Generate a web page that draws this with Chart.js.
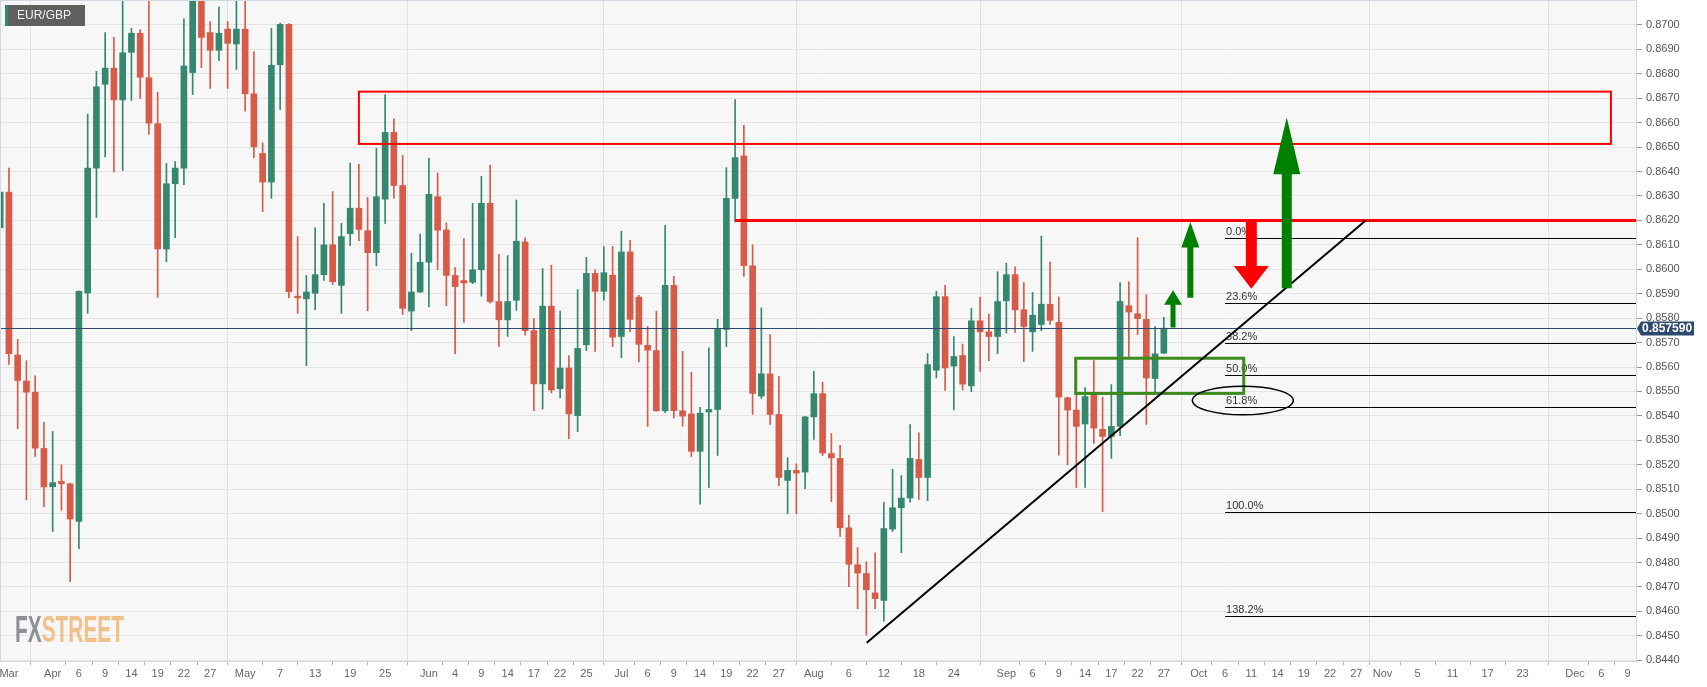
<!DOCTYPE html>
<html>
<head>
<meta charset="utf-8">
<script src="https://cdn.jsdelivr.net/npm/chart.js@4.4.1/dist/chart.umd.min.js"></script>
<style>
  html, body { margin: 0; padding: 0; background: #fff; }
  #wrap { width: 1707px; height: 687px; }
</style>
</head>
<body>
<div id="wrap"><canvas id="chart" width="1707" height="687"></canvas></div>
<script>
// EUR/GBP daily candles, one slot per weekday, first candle on 2021-03-24
const firstDay = '2021-03-24';

const open = [
  0.86170, 0.86316, 0.85649, 0.85543, 0.85497, 0.85267, 0.85110, 0.85132, 0.85122, 0.84968,
  0.85903, 0.86414, 0.86757, 0.86823, 0.86693, 0.86888, 0.86966, 0.86784, 0.86596, 0.86083,
  0.86350, 0.86414, 0.86805, 0.87120, 0.86969, 0.86896, 0.86983, 0.86922, 0.86983, 0.86718,
  0.86474, 0.86357, 0.86837, 0.87002, 0.85890, 0.85879, 0.85902, 0.85978, 0.86100, 0.85934,
  0.86146, 0.86250, 0.86158, 0.86068, 0.86287, 0.86560, 0.86343, 0.85829, 0.85907, 0.86029,
  0.86297, 0.86161, 0.85975, 0.85954, 0.85947, 0.85998, 0.86270, 0.85868, 0.85793, 0.85873,
  0.86112, 0.85749, 0.85531, 0.85849, 0.85511, 0.85596, 0.85401, 0.85691, 0.85983, 0.85910,
  0.85976, 0.85725, 0.86071, 0.85886, 0.85689, 0.85667, 0.85421, 0.85934, 0.85421, 0.85408,
  0.85255, 0.85416, 0.85426, 0.85754, 0.86290, 0.86464, 0.86014, 0.85481, 0.85572, 0.85406,
  0.85136, 0.85177, 0.85170, 0.85396, 0.85491, 0.85246, 0.85226, 0.84942, 0.84791, 0.84755,
  0.84676, 0.84645, 0.84937, 0.85024, 0.85064, 0.85222, 0.85148, 0.85587, 0.85888, 0.85604,
  0.85647, 0.85523, 0.85789, 0.85744, 0.85725, 0.85871, 0.85978, 0.85834, 0.85744, 0.85774,
  0.85857, 0.85783, 0.85474, 0.85424, 0.85367, 0.85494, 0.85345, 0.85316, 0.85357, 0.85851,
  0.85818, 0.85795, 0.85553, 0.85657
];
const high = [
  0.86452, 0.86414, 0.85713, 0.85626, 0.85564, 0.85374, 0.85336, 0.85200, 0.85125, 0.85912,
  0.86635, 0.86810, 0.86969, 0.86949, 0.87120, 0.86986, 0.86980, 0.87150, 0.86725, 0.86433,
  0.86441, 0.87025, 0.87180, 0.87160, 0.87014, 0.87073, 0.87014, 0.87120, 0.87120, 0.86891,
  0.86518, 0.86986, 0.87008, 0.87005, 0.86134, 0.85975, 0.86170, 0.86270, 0.86318, 0.86188,
  0.86435, 0.86430, 0.86294, 0.86496, 0.86715, 0.86616, 0.86467, 0.86066, 0.86144, 0.86455,
  0.86394, 0.86190, 0.86007, 0.86126, 0.86270, 0.86380, 0.86426, 0.86061, 0.86056, 0.86284,
  0.86129, 0.85798, 0.86003, 0.86017, 0.85829, 0.85647, 0.85917, 0.86049, 0.85998, 0.86093,
  0.86093, 0.86156, 0.86119, 0.85893, 0.85766, 0.85829, 0.86180, 0.85971, 0.85664, 0.85579,
  0.85435, 0.85679, 0.85795, 0.86416, 0.86694, 0.86589, 0.86100, 0.85842, 0.85733, 0.85562,
  0.85229, 0.85204, 0.85398, 0.85582, 0.85538, 0.85328, 0.85280, 0.84993, 0.84861, 0.84803,
  0.84840, 0.85046, 0.85182, 0.85156, 0.85365, 0.85331, 0.85655, 0.85910, 0.85934, 0.85725,
  0.85694, 0.85840, 0.85886, 0.85817, 0.85990, 0.86025, 0.86010, 0.85946, 0.85905, 0.86136,
  0.86029, 0.85886, 0.85477, 0.85497, 0.85516, 0.85626, 0.85477, 0.85528, 0.85946, 0.85949,
  0.86129, 0.85896, 0.85766, 0.85803
];
const low = [
  0.86134, 0.85611, 0.85348, 0.85056, 0.85234, 0.85029, 0.84927, 0.85014, 0.84722, 0.84857,
  0.85820, 0.86212, 0.86460, 0.86397, 0.86404, 0.86691, 0.86699, 0.86552, 0.85885, 0.86031,
  0.86129, 0.86346, 0.86715, 0.86825, 0.86740, 0.86854, 0.86740, 0.86818, 0.86647, 0.86457,
  0.86236, 0.86290, 0.86654, 0.85883, 0.85820, 0.85606, 0.85835, 0.85954, 0.85937, 0.85820,
  0.86097, 0.86117, 0.85830, 0.86014, 0.86188, 0.86290, 0.85815, 0.85749, 0.85905, 0.85846,
  0.85998, 0.85851, 0.85655, 0.85783, 0.85941, 0.85890, 0.85861, 0.85684, 0.85725, 0.85832,
  0.85730, 0.85421, 0.85428, 0.85494, 0.85474, 0.85307, 0.85336, 0.85667, 0.85664, 0.85874,
  0.85684, 0.85638, 0.85744, 0.85621, 0.85357, 0.85419, 0.85413, 0.85392, 0.85358, 0.85234,
  0.85039, 0.85107, 0.85238, 0.85684, 0.86194, 0.85971, 0.85406, 0.85472, 0.85365, 0.85115,
  0.85000, 0.85000, 0.85102, 0.85304, 0.85238, 0.85049, 0.84907, 0.84701, 0.84611, 0.84503,
  0.84611, 0.84560, 0.84927, 0.84840, 0.85047, 0.85058, 0.85053, 0.85555, 0.85504, 0.85424,
  0.85506, 0.85499, 0.85582, 0.85626, 0.85655, 0.85739, 0.85742, 0.85623, 0.85664, 0.85749,
  0.85774, 0.85239, 0.85200, 0.85107, 0.85107, 0.85287, 0.85008, 0.85226, 0.85319, 0.85638,
  0.85733, 0.85365, 0.85497, 0.85655
];
const close = [
  0.86316, 0.85655, 0.85545, 0.85497, 0.85268, 0.85109, 0.85127, 0.85122, 0.84978, 0.85910,
  0.86414, 0.86747, 0.86823, 0.86693, 0.86886, 0.86966, 0.86786, 0.86598, 0.86083, 0.86350,
  0.86414, 0.86832, 0.87120, 0.86949, 0.86896, 0.86966, 0.86925, 0.86983, 0.86718, 0.86501,
  0.86357, 0.86835, 0.87002, 0.85908, 0.85883, 0.85907, 0.85978, 0.86100, 0.85949, 0.86134,
  0.86250, 0.86163, 0.86068, 0.86297, 0.86560, 0.86343, 0.85840, 0.85907, 0.86029, 0.86307,
  0.86160, 0.85975, 0.85929, 0.85944, 0.85998, 0.86270, 0.85868, 0.85793, 0.85868, 0.86115,
  0.85749, 0.85531, 0.85849, 0.85506, 0.85596, 0.85408, 0.85676, 0.85983, 0.85910, 0.85986,
  0.85722, 0.86071, 0.85795, 0.85693, 0.85669, 0.85421, 0.85934, 0.85421, 0.85399, 0.85255,
  0.85411, 0.85426, 0.85754, 0.86290, 0.86457, 0.86015, 0.85492, 0.85572, 0.85406, 0.85148,
  0.85177, 0.85166, 0.85396, 0.85491, 0.85248, 0.85228, 0.84942, 0.84793, 0.84757, 0.84689,
  0.84652, 0.84939, 0.85024, 0.85064, 0.85226, 0.85148, 0.85610, 0.85888, 0.85596, 0.85643,
  0.85530, 0.85789, 0.85744, 0.85725, 0.85868, 0.85978, 0.85834, 0.85766, 0.85812, 0.85857,
  0.85791, 0.85477, 0.85424, 0.85357, 0.85479, 0.85350, 0.85316, 0.85357, 0.85868, 0.85825,
  0.85798, 0.85555, 0.85654, 0.85759
];
const lastPrice = 0.857590;

const xTickDates = [
  '2021-03-25', '2021-04-01', '2021-04-06', '2021-04-09', '2021-04-14', '2021-04-19', '2021-04-22', '2021-04-27',
  '2021-05-03', '2021-05-07', '2021-05-13', '2021-05-19', '2021-05-25',
  '2021-06-01', '2021-06-04', '2021-06-09', '2021-06-14', '2021-06-17', '2021-06-22', '2021-06-25',
  '2021-07-01', '2021-07-06', '2021-07-09', '2021-07-14', '2021-07-19', '2021-07-22', '2021-07-27',
  '2021-08-02', '2021-08-06', '2021-08-12', '2021-08-18', '2021-08-24',
  '2021-09-01', '2021-09-06', '2021-09-09', '2021-09-14', '2021-09-17', '2021-09-22', '2021-09-27',
  '2021-10-01', '2021-10-06', '2021-10-11', '2021-10-14', '2021-10-19', '2021-10-22', '2021-10-27',
  '2021-11-01', '2021-11-05', '2021-11-11', '2021-11-17', '2021-11-23',
  '2021-12-01', '2021-12-06', '2021-12-09'
];
const xTickLabels = [
  'Mar', 'Apr', '6', '9', '14', '19', '22', '27',
  'May', '7', '13', '19', '25',
  'Jun', '4', '9', '14', '17', '22', '25',
  'Jul', '6', '9', '14', '19', '22', '27',
  'Aug', '6', '12', '18', '24',
  'Sep', '6', '9', '14', '17', '22', '27',
  'Oct', '6', '11', '14', '19', '22', '27',
  'Nov', '5', '11', '17', '23',
  'Dec', '6', '9'
];
const yTicks = [
  0.8440, 0.8450, 0.8460, 0.8470, 0.8480, 0.8490, 0.8500, 0.8510, 0.8520,
  0.8530, 0.8540, 0.8550, 0.8560, 0.8570, 0.8580, 0.8590, 0.8600, 0.8610,
  0.8620, 0.8630, 0.8640, 0.8650, 0.8660, 0.8670, 0.8680, 0.8690, 0.8700
];

// drawings, in (weekday index from 2021-04-01, price)
const fibLabels = ['0.0%', '23.6%', '38.2%', '50.0%', '61.8%', '100.0%', '138.2%'];
const fibLevels = [0.86130, 0.85862, 0.85699, 0.85568, 0.85437, 0.85007, 0.84580];
const fibStart = 134;
const supplyZone = { x0: 35, x1: 178.1, y0: 0.86513, y1: 0.86727 };
const resistance = { x0: 78, y: 0.8620 };
const retestZone = { x0: 116.93, x1: 136.13, y0: 0.85492, y1: 0.85636 };
const trendLine = [[93.04, 0.84472], [150.07, 0.86200]];
const ring = { x: 136.03, y: 0.85463, rx: 5.77, ry: 0.000585 };
const arrows = [
  { x: 128.05, base: 0.85762, neck: 0.85855, tip: 0.85914, color: '#008000', shaft: 5, head: 18 },
  { x: 130.03, base: 0.85884, neck: 0.86089, tip: 0.86194, color: '#008000', shaft: 6, head: 18 },
  { x: 137.0, base: 0.86204, neck: 0.86013, tip: 0.85920, color: '#ff0000', shaft: 11, head: 35 },
  { x: 141.05, base: 0.85922, neck: 0.86389, tip: 0.86621, color: '#008000', shaft: 10, head: 27 }
];

const DAY = 86400000;
const BASE = Date.UTC(2021, 2, 1);
function weekdaysTo(s) {
  const [y, m, d] = s.split('-').map(Number);
  const t = Date.UTC(y, m - 1, d);
  let n = 0;
  for (let c = BASE; c < t; c += DAY) {
    const g = new Date(c).getUTCDay();
    if (g !== 0 && g !== 6) n++;
  }
  return n;
}
const dayIndex = s => weekdaysTo(s) - weekdaysTo('2021-04-01');

const startIdx = dayIndex(firstDay);
const xTickIdx = xTickDates.map(dayIndex);
const candleX = open.map((_, i) => startIdx + i);
const upColor = '#358770';
const downColor = '#d65b48';
const candleColors = open.map((o, i) => close[i] >= o ? upColor : downColor);
const isMonth = i => /^[A-Z]/.test(xTickLabels[i]) && xTickLabels[i] !== 'Mar';

Chart.defaults.font.family = '"Liberation Sans", Arial, sans-serif';

const overlay = {
  id: 'overlay',
  beforeDraw(chart) {
    const { ctx, chartArea: a } = chart;
    ctx.save();
    ctx.fillStyle = '#ffffff';
    ctx.fillRect(0, 0, chart.width, chart.height);
    ctx.fillStyle = '#f7f7f7';
    ctx.fillRect(a.left, a.top, a.right - a.left, a.bottom - a.top);
    ctx.restore();
  },
  beforeDatasetsDraw(chart) {
    const { ctx, chartArea: a } = chart;
    // watermark
    ctx.save();
    ctx.translate(15, a.bottom - 19);
    ctx.scale(0.58, 1);
    ctx.font = 'bold 36px "Liberation Sans", Arial, sans-serif';
    ctx.textBaseline = 'alphabetic';
    ctx.fillStyle = '#8e9097';
    ctx.fillText('FX', 0, 0);
    const w = ctx.measureText('FX').width;
    ctx.fillStyle = '#f2c089';
    ctx.fillText('STREET', w, 0);
    ctx.restore();
  },
  afterDatasetsDraw(chart) {
    const { ctx, chartArea: a, scales: { x, y } } = chart;
    ctx.save();
    ctx.beginPath();
    ctx.rect(a.left, a.top, a.right - a.left, a.bottom - a.top);
    ctx.clip();

    // last price line
    const py = Math.round(y.getPixelForValue(lastPrice)) + 0.5;
    ctx.strokeStyle = '#2d4a6e';
    ctx.lineWidth = 1;
    ctx.beginPath();
    ctx.moveTo(a.left, py);
    ctx.lineTo(a.right, py);
    ctx.stroke();

    // fibonacci levels
    const fx = x.getPixelForValue(fibStart);
    ctx.font = '11px "Liberation Sans", Arial, sans-serif';
    ctx.textBaseline = 'bottom';
    ctx.textAlign = 'left';
    fibLevels.forEach((lv, i) => {
      const ly = Math.round(y.getPixelForValue(lv)) + 0.5;
      ctx.strokeStyle = '#000';
      ctx.lineWidth = 1;
      ctx.beginPath();
      ctx.moveTo(fx, ly);
      ctx.lineTo(a.right, ly);
      ctx.stroke();
      ctx.fillStyle = '#333';
      ctx.fillText(fibLabels[i], fx + 1, ly - 1);
    });

    // supply zone
    ctx.strokeStyle = '#ff0000';
    ctx.lineWidth = 2;
    ctx.strokeRect(x.getPixelForValue(supplyZone.x0), y.getPixelForValue(supplyZone.y1),
      x.getPixelForValue(supplyZone.x1) - x.getPixelForValue(supplyZone.x0),
      y.getPixelForValue(supplyZone.y0) - y.getPixelForValue(supplyZone.y1));

    // resistance line
    ctx.lineWidth = 3;
    ctx.beginPath();
    ctx.moveTo(x.getPixelForValue(resistance.x0), y.getPixelForValue(resistance.y));
    ctx.lineTo(a.right, y.getPixelForValue(resistance.y));
    ctx.stroke();

    // retest zone
    ctx.strokeStyle = '#3d8b1c';
    ctx.lineWidth = 3;
    ctx.strokeRect(x.getPixelForValue(retestZone.x0), y.getPixelForValue(retestZone.y1),
      x.getPixelForValue(retestZone.x1) - x.getPixelForValue(retestZone.x0),
      y.getPixelForValue(retestZone.y0) - y.getPixelForValue(retestZone.y1));

    // ellipse round 61.8%
    const cx = x.getPixelForValue(ring.x), cy = y.getPixelForValue(ring.y);
    ctx.strokeStyle = '#000';
    ctx.lineWidth = 1.5;
    ctx.beginPath();
    ctx.ellipse(cx, cy, x.getPixelForValue(ring.x + ring.rx) - cx,
      cy - y.getPixelForValue(ring.y + ring.ry), 0, 0, Math.PI * 2);
    ctx.stroke();

    // trend line
    ctx.lineWidth = 2;
    ctx.beginPath();
    ctx.moveTo(x.getPixelForValue(trendLine[0][0]), y.getPixelForValue(trendLine[0][1]));
    ctx.lineTo(x.getPixelForValue(trendLine[1][0]), y.getPixelForValue(trendLine[1][1]));
    ctx.stroke();

    // arrows
    arrows.forEach(ar => {
      const ax = x.getPixelForValue(ar.x);
      const yb = y.getPixelForValue(ar.base);
      const yn = y.getPixelForValue(ar.neck);
      const yt = y.getPixelForValue(ar.tip);
      ctx.fillStyle = ar.color;
      ctx.beginPath();
      ctx.moveTo(ax - ar.shaft / 2, yb);
      ctx.lineTo(ax - ar.shaft / 2, yn);
      ctx.lineTo(ax - ar.head / 2, yn);
      ctx.lineTo(ax, yt);
      ctx.lineTo(ax + ar.head / 2, yn);
      ctx.lineTo(ax + ar.shaft / 2, yn);
      ctx.lineTo(ax + ar.shaft / 2, yb);
      ctx.closePath();
      ctx.fill();
    });
    ctx.restore();
  },
  afterDraw(chart) {
    const { ctx, chartArea: a, scales: { y } } = chart;
    ctx.save();
    // plot frame
    ctx.strokeStyle = '#d3d9e3';
    ctx.lineWidth = 1;
    ctx.strokeRect(a.left + 0.5, a.top + 0.5, a.right - a.left - 1, a.bottom - a.top);

    // symbol tag
    ctx.fillStyle = '#5f5f5f';
    ctx.fillRect(5, 5, 80, 21);
    ctx.fillStyle = '#2f8a70';
    ctx.fillRect(5, 5, 3, 21);
    ctx.fillStyle = '#f2f2f2';
    ctx.font = '12px "Liberation Sans", Arial, sans-serif';
    ctx.textBaseline = 'middle';
    ctx.textAlign = 'left';
    ctx.fillText('EUR/GBP', 17, 16);

    // last price tag
    const py = Math.round(y.getPixelForValue(lastPrice)) + 0.5;
    ctx.fillStyle = '#2d4a6e';
    ctx.beginPath();
    ctx.moveTo(a.right, py);
    ctx.lineTo(a.right + 4, py - 7);
    ctx.lineTo(a.right + 57, py - 7);
    ctx.lineTo(a.right + 57, py + 7);
    ctx.lineTo(a.right + 4, py + 7);
    ctx.closePath();
    ctx.fill();
    ctx.fillStyle = '#ffffff';
    ctx.font = 'bold 12px "Liberation Sans", Arial, sans-serif';
    ctx.fillText(lastPrice.toFixed(6), a.right + 5, py + 0.5);
    ctx.restore();
  }
};

new Chart(document.getElementById('chart'), {
  type: 'bar',
  data: {
    datasets: [
      {
        label: 'wick',
        data: candleX.map((cx, i) => ({ x: cx, y: [low[i], high[i]] })),
        backgroundColor: candleColors,
        barThickness: 1,
        grouped: false,
        borderSkipped: false,
        order: 2
      },
      {
        label: 'body',
        data: candleX.map((cx, i) => ({ x: cx, y: [open[i], close[i]] })),
        backgroundColor: candleColors,
        barThickness: 6,
        minBarLength: 1,
        grouped: false,
        borderSkipped: false,
        order: 1
      }
    ]
  },
  options: {
    responsive: false,
    animation: false,
    layout: { padding: 0 },
    plugins: {
      legend: { display: false },
      tooltip: { enabled: false }
    },
    scales: {
      x: {
        type: 'linear',
        position: 'bottom',
        bounds: 'data',
        min: -6.02,
        max: 181.08,
        offset: false,
        afterBuildTicks: s => { s.ticks = xTickIdx.map(v => ({ value: v })); },
        afterFit: s => {
          s.height = 26;
          s.paddingLeft = 0;
          s.paddingRight = 0;
        },
        border: { display: false },
        grid: {
          color: c => isMonth(c.index) ? '#e2e2e2' : 'rgba(0,0,0,0)',
          tickColor: '#b0b0b0',
          tickLength: 4
        },
        ticks: {
          autoSkip: false,
          maxRotation: 0,
          padding: 2,
          color: '#666',
          font: { size: 11 },
          callback: (v, i) => xTickLabels[i]
        }
      },
      y: {
        type: 'linear',
        position: 'right',
        bounds: 'data',
        min: 0.84397,
        max: 0.87102,
        afterBuildTicks: s => { s.ticks = yTicks.map(v => ({ value: v })); },
        afterFit: s => {
          s.width = 70;
          s.paddingTop = 0;
          s.paddingBottom = 0;
        },
        border: { display: false },
        grid: {
          color: '#e4e4e4',
          tickColor: '#999',
          tickLength: 5
        },
        ticks: {
          padding: 4,
          color: '#555',
          font: { size: 11 },
          callback: v => v.toFixed(4)
        }
      }
    }
  },
  plugins: [overlay]
});
</script>
</body>
</html>
